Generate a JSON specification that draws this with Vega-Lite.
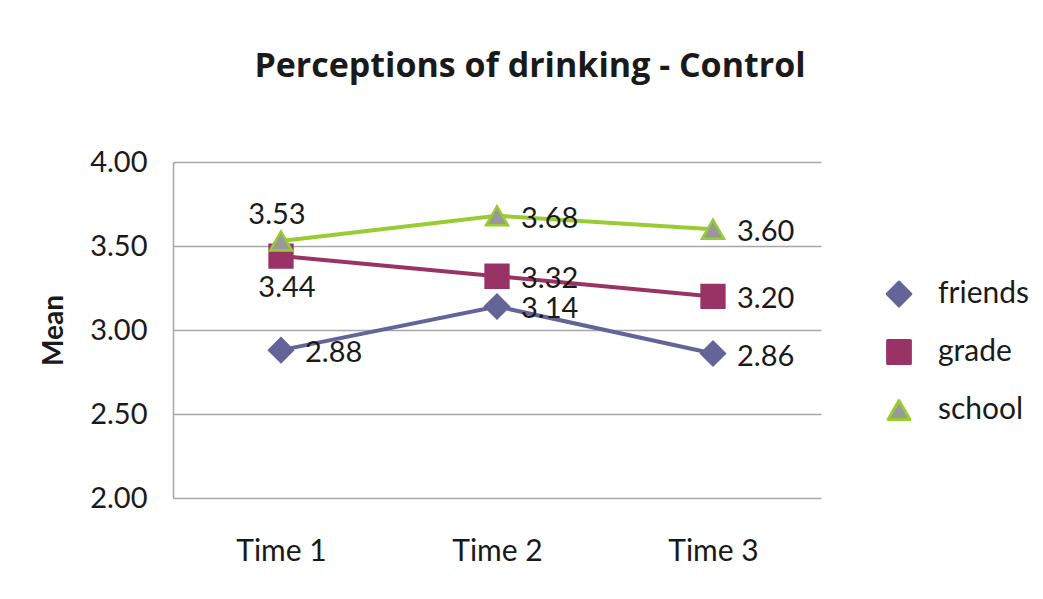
{
  "$schema": "https://vega.github.io/schema/vega-lite/v6.json",
  "width": 648,
  "height": 336,
  "autosize": {"type": "none"},
  "padding": {"left": 173, "top": 162, "right": 222, "bottom": 101},
  "background": "white",
  "config": {"view": {"stroke": null}},
  "title": {"text": "Perceptions of drinking - Control", "font": "Open Sans", "fontSize": 34, "fontWeight": "bold", "color": "#1a1a1a", "dx": 33, "offset": 64},
  "data": {"values": [
    {"time": "Time 1", "series": "friends", "mean": 2.88},
    {"time": "Time 2", "series": "friends", "mean": 3.14},
    {"time": "Time 3", "series": "friends", "mean": 2.86},
    {"time": "Time 1", "series": "grade", "mean": 3.44},
    {"time": "Time 2", "series": "grade", "mean": 3.32},
    {"time": "Time 3", "series": "grade", "mean": 3.20},
    {"time": "Time 1", "series": "school", "mean": 3.53},
    {"time": "Time 2", "series": "school", "mean": 3.68},
    {"time": "Time 3", "series": "school", "mean": 3.60}
  ]},
  "encoding": {
    "x": {"field": "time", "type": "nominal", "sort": ["Time 1", "Time 2", "Time 3"],
      "scale": {"type": "point", "padding": 0.5},
      "axis": {"title": null, "labelAngle": 0, "domain": false, "ticks": false, "grid": false, "labelFont": "Lato", "labelFontSize": 30, "labelColor": "#1a1a1a", "labelPadding": 38}},
    "y": {"field": "mean", "type": "quantitative", "scale": {"domain": [2, 4]},
      "axis": {"title": "Mean", "titleFont": "Lato", "titleFontSize": 28, "titleFontWeight": "bold", "titleColor": "#1a1a1a", "titlePadding": 21,
        "labelFont": "Lato", "labelFontSize": 29, "labelColor": "#1a1a1a", "labelPadding": 26, "labelFlush": false, "labelOverlap": false,
        "ticks": false, "values": [2, 2.5, 3, 3.5, 4], "format": ".2f", "gridColor": "#A6A6A6", "gridWidth": 1.5, "domainColor": "#A6A6A6", "domainWidth": 1.5}}
  },
  "layer": [
    {
      "mark": {"type": "line", "strokeWidth": 4},
      "encoding": {
        "color": {"field": "series", "type": "nominal",
          "scale": {"domain": ["friends", "grade", "school"], "range": ["#646498", "#993366", "#99CC33"]},
          "legend": {"orient": "none", "legendX": 711, "legendY": 117, "title": null, "padding": 0,
            "labelFont": "Lato", "labelFontSize": 30, "labelColor": "#1a1a1a", "labelOffset": 24,
            "symbolSize": 676, "symbolStrokeWidth": 3, "rowPadding": 28,
            "encode": {"symbols": {"update": {
              "shape": {"signal": "datum.value === 'friends' ? 'M0,0ZM-2.7,-0.04L2.7,-0.04L2.7,0.04L-2.7,0.04ZM0,-0.88L0.88,0L0,0.88L-0.88,0Z' : datum.value === 'grade' ? 'M0,0ZM-2.7,-0.04L2.7,-0.04L2.7,0.04L-2.7,0.04ZM-0.8,-0.8L0.8,-0.8L0.8,0.8L-0.8,0.8Z' : 'M0,0ZM-2.7,-0.04L2.7,-0.04L2.7,0.04L-2.7,0.04ZM0,-0.8L0.9,0.75L-0.9,0.75Z'"},
              "fill": {"signal": "datum.value === 'friends' ? '#646498' : datum.value === 'grade' ? '#993366' : '#999999'"},
              "stroke": {"signal": "datum.value === 'friends' ? '#646498' : datum.value === 'grade' ? '#993366' : '#99CC33'"},
              "strokeWidth": {"value": 3},
              "strokeJoin": {"value": "round"},
              "opacity": {"value": 1}
            }}}
          }}
      }
    },
    {
      "mark": {"type": "point", "filled": false, "opacity": 1, "strokeWidth": 2.5},
      "encoding": {
        "shape": {"field": "series", "type": "nominal", "scale": {"domain": ["friends", "grade", "school"], "range": ["diamond", "square", "triangle-up"]}, "legend": null},
        "fill": {"field": "series", "type": "nominal", "scale": {"domain": ["friends", "grade", "school"], "range": ["#646498", "#993366", "#999999"]}, "legend": null},
        "stroke": {"field": "series", "type": "nominal", "scale": {"domain": ["friends", "grade", "school"], "range": ["#646498", "#993366", "#99CC33"]}, "legend": null},
        "size": {"field": "series", "type": "nominal", "scale": {"domain": ["friends", "grade", "school"], "range": [560, 480, 580]}, "legend": null}
      }
    },
    {
      "transform": [{"filter": "!(datum.time === 'Time 1' && (datum.series === 'school' || datum.series === 'grade'))"}],
      "mark": {"type": "text", "align": "left", "baseline": "middle", "dx": 24, "dy": 3, "font": "Lato", "fontSize": 29, "color": "#1a1a1a"},
      "encoding": {"text": {"field": "mean", "type": "quantitative", "format": ".2f"}}
    },
    {
      "transform": [{"filter": "datum.time === 'Time 1' && datum.series === 'school'"}],
      "mark": {"type": "text", "align": "center", "baseline": "middle", "dx": -4, "dy": -26, "font": "Lato", "fontSize": 29, "color": "#1a1a1a"},
      "encoding": {"text": {"field": "mean", "type": "quantitative", "format": ".2f"}}
    },
    {
      "transform": [{"filter": "datum.time === 'Time 1' && datum.series === 'grade'"}],
      "mark": {"type": "text", "align": "center", "baseline": "middle", "dx": 6, "dy": 32, "font": "Lato", "fontSize": 29, "color": "#1a1a1a"},
      "encoding": {"text": {"field": "mean", "type": "quantitative", "format": ".2f"}}
    }
  ]
}
